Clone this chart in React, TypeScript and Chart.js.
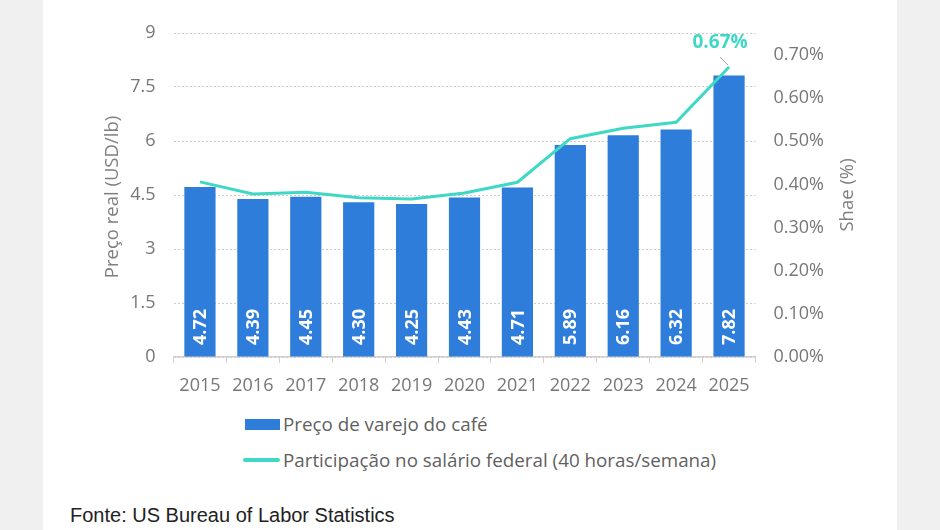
import React, { useEffect, useRef } from "react";
import { Chart, registerables } from "chart.js";

Chart.register(...registerables);

const years = ["2015", "2016", "2017", "2018", "2019", "2020", "2021", "2022", "2023", "2024", "2025"];
const retailPrice = [4.72, 4.39, 4.45, 4.3, 4.25, 4.43, 4.71, 5.89, 6.16, 6.32, 7.82];
const priceLabels = ["4.72", "4.39", "4.45", "4.30", "4.25", "4.43", "4.71", "5.89", "6.16", "6.32", "7.82"];
const wageShare = [0.406, 0.378, 0.382, 0.369, 0.366, 0.38, 0.405, 0.506, 0.53, 0.544, 0.672];
const lastShareLabel = "0.67%";
const seriesNames = ["Preço de varejo do café", "Participação no salário federal (40 horas/semana)"];
const leftTitle = "Preço real (USD/lb)";
const rightTitle = "Shae (%)";
const sourceText = "Fonte: US Bureau of Labor Statistics";

const BLUE = "#2F7DDB";
const TEAL = "#3FD8C6";
const TICK_GRAY = "#777777";
const FONT = '"Open Sans", sans-serif';

const overlayPlugin = {
  id: "overlay",
  afterDatasetsDraw(chart: any) {
    const ctx = chart.ctx;
    const barMeta = chart.getDatasetMeta(1);
    ctx.save();
    ctx.fillStyle = "#ffffff";
    ctx.font = `bold 18px ${FONT}`;
    ctx.textAlign = "center";
    ctx.textBaseline = "middle";
    barMeta.data.forEach((el: any, i: number) => {
      ctx.save();
      ctx.translate(el.x, el.base - 29.5);
      ctx.rotate(-Math.PI / 2);
      ctx.fillText(priceLabels[i], 0, 1);
      ctx.restore();
    });
    const lineMeta = chart.getDatasetMeta(0);
    const last = lineMeta.data[lineMeta.data.length - 1];
    ctx.strokeStyle = "#a0a0a0";
    ctx.lineWidth = 1;
    ctx.beginPath();
    ctx.moveTo(last.x - 9, last.y - 10);
    ctx.lineTo(last.x - 1, last.y - 2);
    ctx.stroke();
    ctx.fillStyle = TEAL;
    ctx.font = `bold 19px ${FONT}`;
    ctx.fillText(lastShareLabel, last.x - 9, last.y - 24);

    const area = chart.chartArea;
    const midY = (area.top + area.bottom) / 2;
    ctx.fillStyle = "#808080";
    ctx.font = `18.5px ${FONT}`;
    ctx.save();
    ctx.translate(113, midY + 2);
    ctx.rotate(-Math.PI / 2);
    ctx.fillText(leftTitle, 0, 0);
    ctx.restore();
    ctx.save();
    ctx.translate(848, midY);
    ctx.rotate(-Math.PI / 2);
    ctx.fillText(rightTitle, 0, 0);
    ctx.restore();
    ctx.restore();
  },
};

function ChartCanvas() {
  const ref = useRef<HTMLCanvasElement | null>(null);
  useEffect(() => {
    if (!ref.current) return;
    const chart = new Chart(ref.current, {
      type: "bar",
      data: {
        labels: years,
        datasets: [
          {
            type: "line",
            label: seriesNames[1],
            data: wageShare,
            yAxisID: "y1",
            borderColor: TEAL,
            backgroundColor: TEAL,
            borderWidth: 3,
            pointRadius: 0,
            tension: 0,
            order: 0,
          } as any,
          {
            type: "bar",
            label: seriesNames[0],
            data: retailPrice,
            yAxisID: "y",
            backgroundColor: BLUE,
            categoryPercentage: 1,
            barPercentage: 0.59,
            order: 1,
          },
        ],
      },
      options: {
        responsive: false,
        animation: false,
        devicePixelRatio: 1,
        layout: { padding: { top: 33, left: 0, right: 0, bottom: 0 } },
        plugins: { legend: { display: false }, tooltip: { enabled: false } },
        scales: {
          x: {
            grid: {
              display: true,
              drawOnChartArea: false,
              drawTicks: true,
              tickLength: 6,
              color: "#cfcfcf",
              offset: true,
            },
            border: { display: true, color: "#cfcfcf", width: 1.5 },
            ticks: { color: TICK_GRAY, font: { family: FONT, size: 18 }, padding: 12, maxRotation: 0 },
            afterFit: (s: any) => {
              s.height = 43;
            },
          },
          y: {
            position: "left",
            min: 0,
            max: 9,
            grid: {
              color: "#cccccc",
              drawTicks: false,
              lineWidth: 1,
            },
            border: { display: false, dash: [2, 2] },
            ticks: {
              stepSize: 1.5,
              color: TICK_GRAY,
              font: { family: FONT, size: 18 },
              padding: 18,
              callback: (v: any) => String(v),
            },
            afterFit: (s: any) => {
              s.width = 173.5;
            },
          },
          y1: {
            position: "right",
            min: 0,
            max: 0.751,
            grid: { display: false, drawTicks: false },
            border: { display: false },
            ticks: {
              stepSize: 0.1,
              includeBounds: false,
              color: TICK_GRAY,
              font: { family: FONT, size: 18 },
              padding: 18,
              callback: (v: any) => Number(v).toFixed(2) + "%",
            },
            afterFit: (s: any) => {
              s.width = 184.5;
            },
          },
        },
      } as any,
      plugins: [overlayPlugin],
    });
    return () => chart.destroy();
  }, []);
  return <canvas ref={ref} width={940} height={400} style={{ position: "absolute", left: 0, top: 0, width: 940, height: 400 }} />;
}

export default function App() {
  return (
    <div
      style={{
        position: "fixed",
        left: 0,
        top: 0,
        width: 940,
        height: 530,
        background: "#f0f0f0",
        overflow: "hidden",
      }}
    >
      <div style={{ position: "absolute", left: 43, top: 0, width: 854, height: 530, background: "#ffffff" }} />
      <ChartCanvas />
      <div style={{ position: "absolute", left: 245, top: 411, display: "flex", alignItems: "center", fontFamily: FONT, fontSize: 18.8, color: "#5f5f5f", whiteSpace: "nowrap" }}>
        <span style={{ display: "inline-block", width: 35, height: 11, background: BLUE, marginRight: 3 }} />
        <span>{seriesNames[0]}</span>
      </div>
      <div style={{ position: "absolute", left: 243, top: 447, display: "flex", alignItems: "center", fontFamily: FONT, fontSize: 18.8, color: "#5f5f5f", whiteSpace: "nowrap" }}>
        <span style={{ display: "inline-block", width: 37, height: 3.5, borderRadius: 2, background: TEAL, marginRight: 3 }} />
        <span>{seriesNames[1]}</span>
      </div>
      <div style={{ position: "absolute", left: 70, top: 504, fontFamily: '"Liberation Sans", Arial, sans-serif', fontSize: 20, color: "#222222", whiteSpace: "nowrap" }}>
        {sourceText}
      </div>
    </div>
  );
}
